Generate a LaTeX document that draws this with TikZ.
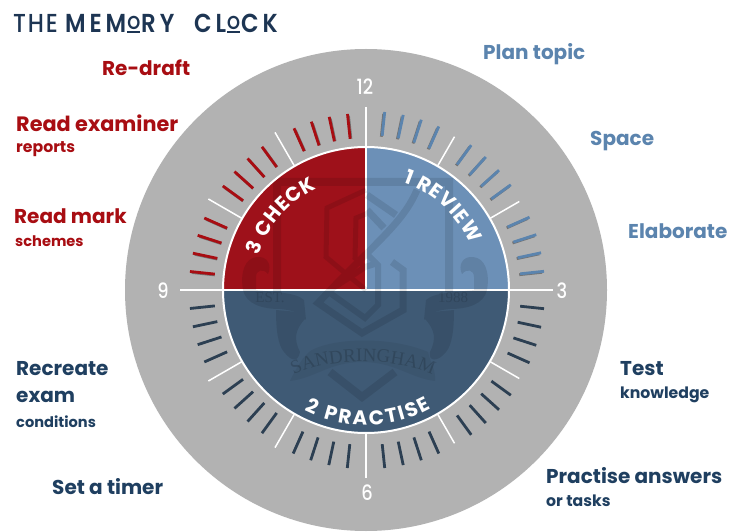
\documentclass[tikz,border=0pt]{standalone}
\usepackage{fontspec}
\usepackage{graphicx}
\usetikzlibrary{decorations.text}
\setmainfont{Poppins}
\newfontfamily\lbl{Poppins}
\newfontfamily\ttl[LetterSpace=7,FakeStretch=.88]{Poppins Medium}
\newfontfamily\ttm[LetterSpace=15,FakeStretch=.88]{Poppins SemiBold}
\newfontfamily\numf[FakeStretch=.85]{Poppins Medium}
\newfontfamily\serifw{Liberation Serif}
\definecolor{cgray}{HTML}{B2B2B2}
\definecolor{cred}{HTML}{9E111A}
\definecolor{cblue}{HTML}{6C90B7}
\definecolor{cnavy}{HTML}{3F5A75}
\definecolor{tred}{HTML}{A80D12}
\definecolor{tblue}{HTML}{5B84AE}
\definecolor{tnavy}{HTML}{1F3F60}
\definecolor{ttitle}{HTML}{1D3553}
\newcommand\uO{\kern1pt\vbox{\hbox{\scalebox{.72}{O}}\kern1.8pt\hrule height 1.8pt}\kern1pt}
\tikzset{
  big/.style={inner sep=0,anchor=base west,font=\lbl\bfseries\fontsize{20}{24}\selectfont},
  small/.style={inner sep=0,anchor=base west,font=\lbl\bfseries\fontsize{15.7}{18}\selectfont},
  smaller/.style={inner sep=0,anchor=base west,font=\lbl\bfseries\fontsize{14.6}{18}\selectfont},
  titleword/.style={inner sep=0,anchor=base west,text=ttitle,font=\ttl\fontsize{26}{27}\selectfont},
  titlebold/.style={inner sep=0,anchor=base west,text=ttitle,font=\ttm\fontsize{26}{27}\selectfont},
  num/.style={inner sep=0,text=white,font=\numf\fontsize{21}{22}\selectfont},
  band/.style={draw=black,line width=8pt,line join=miter,fill=none},
  ribbon/.style={fill=black,draw=none},
  hourtick/.style={draw=white,line width=1.5pt},
  mintick/.style={line width=2.8pt},
  arc text/.style={decorate,decoration={text along path,text align=fit to path,text color=white,text={#1}}},
  crest text/.style={decorate,decoration={text along path,text align=center,text color=black,text={#1}}}
}
\begin{document}
\begin{tikzpicture}[x=1pt,y=-1pt]
\useasboundingbox (0,0) rectangle (729,532);
\clip (0,0) rectangle (729,532);
\fill[white] (0,0) rectangle (729,532);
\coordinate (c) at (366,290);
\begin{scope}[shift={(c)},x=1pt,y=1pt]
  \fill[cgray] (0,0) circle[radius=241];
  % sectors
  \fill[cred] (0,0) -- (180:143) arc[start angle=180,end angle=90,radius=143] -- cycle;
  \fill[cblue] (0,0) -- (90:143) arc[start angle=90,end angle=0,radius=143] -- cycle;
  \fill[cnavy] (180:143) arc[start angle=180,end angle=360,radius=143] -- cycle;
  % minute ticks
  \foreach \h in {0,30,60}{\foreach \m in {6,12,18,24}{
    \pgfmathsetmacro\a{90-\h-\m}
    \draw[mintick,draw=black!55] ([shift={(-.9,-.9)}]\a:155) -- ([shift={(-.9,-.9)}]\a:178);
    \draw[mintick,draw=tblue] (\a:155) -- (\a:179);
  }}
  \foreach \h in {90,120,150,180}{\foreach \m in {6,12,18,24}{
    \pgfmathsetmacro\a{90-\h-\m}
    \draw[mintick,draw=cnavy!70!black] (\a:155) -- (\a:179);
  }}
  \foreach \h in {210,240}{\foreach \m in {6,12,18,24}{
    \pgfmathsetmacro\a{90-\h-\m}
    \draw[mintick,draw=cnavy!70!black] (\a:152) -- (\a:177);
  }}
  \foreach \h in {270,300,330}{\foreach \m in {6,12,18,24}{
    \pgfmathsetmacro\a{90-\h-\m}
    \draw[mintick,draw=black!55] ([shift={(.9,-.9)}]\a:153) -- ([shift={(.9,-.9)}]\a:176);
    \draw[mintick,draw=tred] (\a:152) -- (\a:177);
  }}
  % hour ticks
  \foreach \a in {60,30,-30,-60}{\draw[hourtick] (\a:143) -- (\a:177);}
  \foreach \a in {120,150,210,240}{\draw[hourtick] (\a:143) -- (\a:182);}
  \draw[hourtick,line width=2pt] (0,183) -- (0,143);
  \draw[hourtick,line width=2pt] (0,-143) -- (0,-188);
  \draw[hourtick] (-186,0) -- (187,0);
  \draw[hourtick,line width=1.2pt] (0,143) -- (0,0);
\end{scope}
% crest watermark
\begin{scope}
  \clip (c) circle[radius=143];
  \begin{scope}[transparency group,opacity=.1]
    % frame
    \draw[band] (277,292) -- (277,182) -- (449,182) -- (449,292);
    % shield tip
    \draw[band] (330,372) -- (362,397) -- (395,372);
    % outer monogram
    \draw[band,line width=5pt] (366,190) -- (327,208) -- (326,257) -- (345,273) -- (366,290);
    \draw[band,line width=5pt] (366,214) -- (356,218) -- (355,258) -- (366,268);
    \draw[band,line width=7pt] (367,195) -- (396,215);
    \draw[band,line width=7pt] (367,210) -- (384,228);
    \draw[band,line width=7pt] (417,190) .. controls (405,218) and (385,235) .. (340,280) -- (318,303) -- (362,333) -- (403,310) -- (403,270) -- (392,262);
    \draw[band,line width=6pt] (330,290) -- (365,267) -- (378,263);
    \draw[band,line width=6pt] (330,293) -- (365,318) -- (378,305) -- (378,265) -- (366,253);
    % left scroll
    \fill[ribbon] (243,290) .. controls (240,272) and (245,258) .. (257,257) .. controls (268,256) and (272,266) .. (268,274) .. controls (263,268) and (256,270) .. (256,277) -- (256,290)
      .. controls (270,292) and (296,292) .. (304,300) -- (306,320) .. controls (300,312) and (290,310) .. (280,309) .. controls (262,309) and (246,304) .. (243,290) -- cycle;
    \fill[ribbon] (276,310) .. controls (276,330) and (278,345) .. (284,352) .. controls (292,362) and (298,362) .. (300,352) .. controls (294,340) and (294,330) .. (306,318) -- (298,312) -- cycle;
    % right scroll
    \fill[ribbon] (487,290) .. controls (490,272) and (485,258) .. (473,257) .. controls (462,256) and (458,266) .. (462,274) .. controls (467,268) and (474,270) .. (474,277) -- (474,290)
      .. controls (460,292) and (434,292) .. (426,300) -- (424,320) .. controls (430,312) and (440,310) .. (450,309) .. controls (468,309) and (484,304) .. (487,290) -- cycle;
    \fill[ribbon] (454,310) .. controls (454,330) and (452,345) .. (446,352) .. controls (438,362) and (428,362) .. (430,352) .. controls (436,340) and (436,330) .. (424,318) -- (432,312) -- cycle;
    % banner
    \fill[ribbon,opacity=.55] (290,381) .. controls (300,360) and (308,352) .. (312,350) .. controls (335,338) and (390,336) .. (428,352) .. controls (430,362) and (436,370) .. (435,381) .. controls (410,378) and (395,362) .. (362,362) .. controls (330,362) and (315,378) .. (290,381) -- cycle;
  \end{scope}
  \begin{scope}[opacity=.13]
    \node[inner sep=0,text=black,font=\serifw\fontsize{15}{15}\selectfont] (est) at (270,298) {EST.};
    \node[inner sep=0,text=black,font=\serifw\fontsize{15}{15}\selectfont] (yr) at (453,298) {1988};
  \end{scope}
\end{scope}
\begin{scope}[shift={(c)},x=1pt,y=1pt]
  \begin{scope}[opacity=.16]
    \path[crest text={|\serifw\fontsize{19}{19}\selectfont|SANDRINGHAM}] (-78,-88) .. controls (-40,-66) and (35,-66) .. (72,-88);
  \end{scope}
  \draw[white,line width=2pt] (0,0) circle[radius=143];
  \path[arc text={|\lbl\bfseries\fontsize{20}{20}\selectfont|1 REVIEW}] (71:114) arc[start angle=71,end angle=24,radius=114];
  \path[arc text={|\lbl\bfseries\fontsize{20}{20}\selectfont|3 CHECK}] (162:113) arc[start angle=162,end angle=116,radius=113];
  \path[arc text={|\lbl\bfseries\fontsize{20}{20}\selectfont|2 PRACTISE}] (-117:135) arc[start angle=-117,end angle=-61,radius=135];
\end{scope}
% numerals
\node[num] (n12) at (365,87) {12};
\node[num] (n3) at (562,291) {3};
\node[num] (n6) at (367,493) {6};
\node[num] (n9) at (163,291) {9};
% title
\node[titleword] (t1) at (13,33) {THE};
\node[titlebold] (t2) at (65,33) {MEM\uO RY};
\node[titlebold] (t3) at (194,33) {CL\uO CK};
% labels
\node[big,text=tred] (l1) at (102,76) {Re-draft};
\node[big,text=tred,font=\lbl\bfseries\fontsize{20.8}{24}\selectfont] (l2) at (16,132) {Read examiner};
\node[small,text=tred] (l3) at (16,153) {reports};
\node[big,text=tred] (l4) at (14,224) {Read mark};
\node[smaller,text=tred] (l5) at (15,247) {schemes};
\node[big,text=tnavy] (l6) at (16,375) {Recreate};
\node[big,text=tnavy] (l7) at (16,402) {exam};
\node[smaller,text=tnavy] (l8) at (16,427) {conditions};
\node[big,text=tnavy] (l9) at (52,494) {Set a timer};
\node[big,text=tblue] (r1) at (483,60) {Plan topic};
\node[big,text=tblue] (r2) at (590,146) {Space};
\node[big,text=tblue] (r3) at (628,238) {Elaborate};
\node[big,text=tnavy] (r4) at (620,375) {Test};
\node[small,text=tnavy] (r5) at (620,398) {knowledge};
\node[big,text=tnavy] (r6) at (546,483) {Practise answers};
\node[small,text=tnavy] (r7) at (546,506) {or tasks};
\end{tikzpicture}
\end{document}
